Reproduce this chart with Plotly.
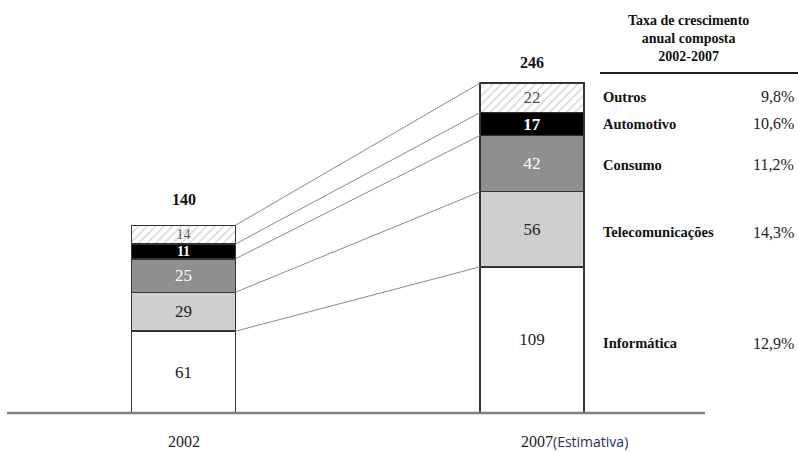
import plotly.graph_objects as go

years = ["2002", "2007"]
categories = ["Informática", "Telecomunicações", "Consumo", "Automotivo", "Outros"]
v2002 = [61, 29, 25, 11, 14]
v2007 = [109, 56, 42, 17, 22]
growth = ["12,9%", "14,3%", "11,2%", "10,6%", "9,8%"]

W, H = 798, 452
SERIF = "Liberation Serif, Times New Roman, serif"

# pixel mapping helpers (layout only)
px_per_x = 348.5
x0 = -183.5 / px_per_x
x1 = x0 + W / px_per_x
px_per_y = 1.341
base_py = 413
y0 = (base_py - H) / px_per_y
y1 = base_py / px_per_y
bw = 0.298

def xd(px):
    return x0 + px / px_per_x

fills = ["#ffffff", "#cfcfcf", "#8f8f8f", "#000000", "#ffffff"]
txtcol = ["#222222", "#222222", "#ffffff", "#ffffff", "#555555"]
bold = [False, False, False, True, False]
small = [False, False, False, True, True]

fig = go.Figure()
xs = [0, 1]
for i, cat in enumerate(categories):
    vals = [v2002[i], v2007[i]]
    marker = dict(color=fills[i], line=dict(color="#333333", width=1.5))
    if cat == "Outros":
        marker["pattern"] = dict(shape="/", fgcolor="#a0a0a0", bgcolor="#ffffff", size=6, solidity=0.2)
    texts = [("<b>%d</b>" % v) if bold[i] else str(v) for v in vals]
    sizes = [14 if small[i] else 17, 17]
    fig.add_trace(go.Bar(
        x=xs, y=vals, width=bw, name=cat, marker=marker,
        text=texts, textposition="inside", insidetextanchor="middle",
        textangle=0, constraintext="none",
        textfont=dict(family=SERIF, size=sizes, color=txtcol[i]),
        showlegend=False, hoverinfo="skip",
    ))

# connecting lines between cumulative boundaries
cum02, cum07 = [], []
s02 = s07 = 0
for a, b in zip(v2002, v2007):
    s02 += a
    s07 += b
    cum02.append(s02)
    cum07.append(s07)
for a, b in zip(cum02, cum07):
    fig.add_trace(go.Scatter(
        x=[bw / 2, 1 - bw / 2], y=[a, b], mode="lines",
        line=dict(color="#8a8a8a", width=1), showlegend=False, hoverinfo="skip",
    ))

# totals
for xv, tot, sh in [(0, cum02[-1], 26), (1, cum07[-1], 21)]:
    fig.add_annotation(x=xv, y=tot, xref="x", yref="y", yanchor="middle", xanchor="center",
                       yshift=sh, text="<b>%d</b>" % tot, showarrow=False,
                       font=dict(family=SERIF, size=16, color="#111111"))

# baseline
fig.add_shape(type="line", x0=xd(7), x1=xd(705), y0=0, y1=0,
              line=dict(color="#808080", width=2.5), layer="above")

# x labels
fig.add_annotation(x=0, y=0, yref="y", yshift=-28, yanchor="middle", xanchor="center",
                   text="2002", showarrow=False,
                   font=dict(family=SERIF, size=16, color="#222222"))
fig.add_annotation(x=1, y=0, yref="y", yshift=-28, yanchor="middle", xanchor="center", xshift=42,
                   text="2007<span style='font-family:Open Sans, sans-serif;color:#1f2f6f;font-size:14px'>(Estimativa)</span>",
                   showarrow=False, font=dict(family=SERIF, size=16, color="#222222"))

# right-side table
fig.add_annotation(x=688 / W, y=1 - 38 / H, xref="paper", yref="paper",
                   xanchor="center", yanchor="middle",
                   text="<b>Taxa de crescimento<br>anual composta<br>2002-2007</b>",
                   showarrow=False, font=dict(family=SERIF, size=14, color="#111111"),
                   align="center")
fig.add_shape(type="line", xref="paper", yref="paper", x0=600 / W, x1=1.0,
              y0=1 - 73 / H, y1=1 - 73 / H, line=dict(color="#222222", width=2))

row_py = [343, 232, 165, 124, 97]
for i, cat in enumerate(categories):
    yp = 1 - row_py[i] / H
    fig.add_annotation(x=601 / W, y=yp, xref="paper", yref="paper", xanchor="left", yanchor="middle",
                       text="<b>%s</b>" % cat, showarrow=False,
                       font=dict(family=SERIF, size=14.5, color="#111111"))
    fig.add_annotation(x=796 / W, y=yp, xref="paper", yref="paper", xanchor="right", yanchor="middle",
                       text=growth[i], showarrow=False,
                       font=dict(family=SERIF, size=16, color="#222222"))

fig.update_layout(
    width=W, height=H, margin=dict(l=0, r=0, t=0, b=0),
    barmode="stack", plot_bgcolor="white", paper_bgcolor="white",
    xaxis=dict(range=[x0, x1], visible=False, fixedrange=True),
    yaxis=dict(range=[y0, y1], visible=False, fixedrange=True),
    showlegend=False,
)
fig.write_html("out.html")
